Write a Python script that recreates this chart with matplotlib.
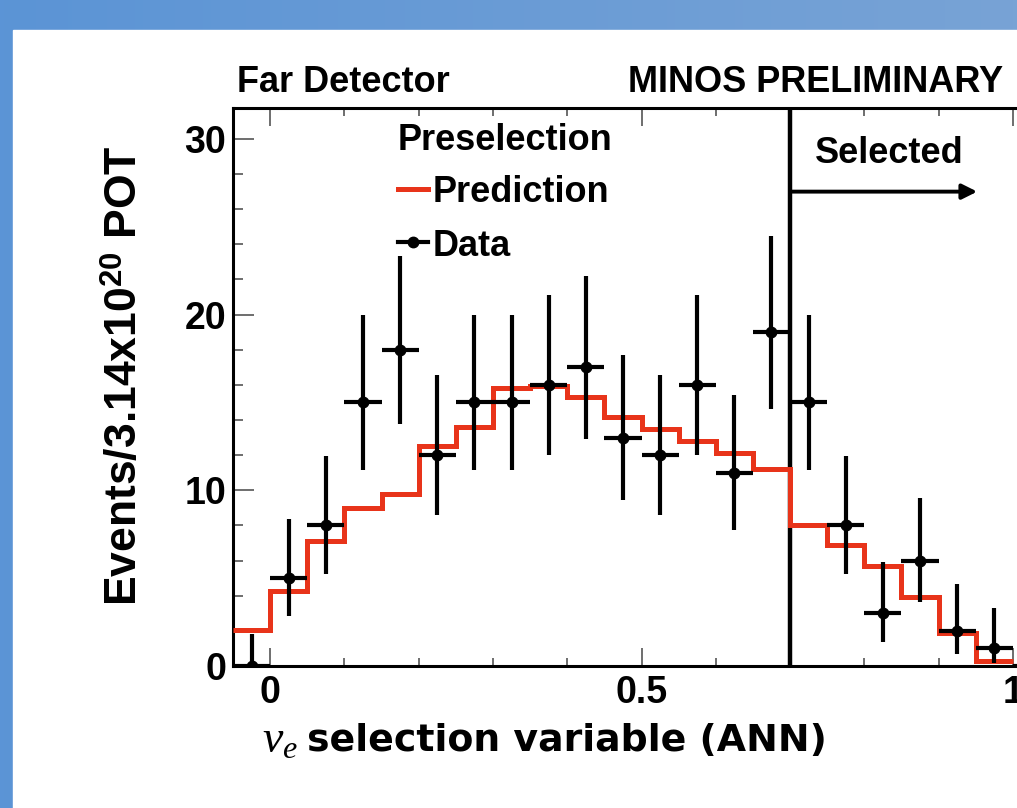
import matplotlib
matplotlib.use('Agg')
import matplotlib.pyplot as plt
import numpy as np
from matplotlib.patches import Rectangle
from matplotlib.colors import LinearSegmentedColormap
from matplotlib.ticker import MultipleLocator, FixedLocator

plt.rcParams['mathtext.fontset'] = 'custom'
plt.rcParams['mathtext.rm'] = 'Liberation Sans'
plt.rcParams['mathtext.bf'] = 'Liberation Sans:bold'
plt.rcParams['mathtext.it'] = 'Liberation Serif:italic'

# data (bin width 0.05)
bin_centers = [-0.025, 0.025, 0.075, 0.125, 0.175, 0.225, 0.275, 0.325, 0.375, 0.425, 0.475,
               0.525, 0.575, 0.625, 0.675, 0.725, 0.775, 0.825, 0.875, 0.925, 0.975, 1.025]
data_counts = [0, 5, 8, 15, 18, 12, 15, 15, 16, 17, 13, 12, 16, 11, 19, 15, 8, 3, 6, 2, 1, 0]
err_low = [0, 2.16, 2.77, 3.83, 4.22, 3.42, 3.83, 3.83, 3.97, 4.10, 3.56,
           3.42, 3.97, 3.27, 4.35, 3.83, 2.77, 1.63, 2.38, 1.29, 0.83, 0]
err_high = [1.84, 3.38, 3.95, 4.96, 5.33, 4.56, 4.96, 4.96, 5.09, 5.21, 4.70,
            4.56, 5.09, 4.42, 5.45, 4.96, 3.95, 2.92, 3.58, 2.64, 2.30, 1.84]

pred_edges = [-0.05, 0.0, 0.05, 0.1, 0.15, 0.2, 0.25, 0.3, 0.35, 0.4, 0.45, 0.5,
              0.55, 0.6, 0.65, 0.7, 0.75, 0.8, 0.85, 0.9, 0.95, 1.0]
prediction = [2.05, 4.25, 7.1, 9.0, 9.8, 12.5, 13.6, 15.85, 15.95, 15.3, 14.2,
              13.5, 12.8, 12.1, 11.2, 8.0, 6.9, 5.7, 3.9, 1.9, 0.3]

cut_value = 0.7

W, H = 1017, 808
def fx(x):
    return x / W
def fy(y):
    return 1 - y / H

fig = plt.figure(figsize=(W / 100, H / 100), dpi=100)

# slide background: blue band top and left
bg = fig.add_axes([0, 0, 1, 1])
grad = np.linspace(0, 1, 256).reshape(1, -1)
cmap = LinearSegmentedColormap.from_list('slide', ['#5b94d6', '#78a3d5'])
bg.imshow(grad, aspect='auto', cmap=cmap, extent=[0, 1, 0, 1])
bg.add_patch(Rectangle((fx(13), 0), 1, fy(30), color='white'))
bg.set_xlim(0, 1)
bg.set_ylim(0, 1)
bg.axis('off')

red = '#e8341a'

ax = fig.add_axes([fx(233), fy(666), 817 / W, (666 - 108) / H])
ax.set_xlim(-0.05, 1.05)
ax.set_ylim(0, 31.76)

ax.axvline(cut_value, color='black', lw=3.2, zorder=2)
ax.stairs(prediction, pred_edges, baseline=None, color=red, lw=3.6, zorder=3)
ax.errorbar(bin_centers, data_counts, yerr=[err_low, err_high], xerr=0.025,
            fmt='o', color='black', ms=7.5, elinewidth=3, capsize=0, zorder=4)

# "Selected" arrow
ax.annotate('', xy=(0.952, 27.0), xytext=(cut_value, 27.0),
            arrowprops=dict(arrowstyle='-|>,head_length=0.9,head_width=0.45',
                            color='black', lw=2.8, shrinkA=0, shrinkB=0))
fig.text(fx(815), fy(163), 'Selected', fontsize=26, fontweight='bold',
         family='Liberation Sans', va='baseline', ha='left')

# axes styling
for s in ax.spines.values():
    s.set_linewidth(2.2)
ax.xaxis.set_major_locator(FixedLocator([0, 0.5, 1]))
ax.xaxis.set_minor_locator(FixedLocator([0.1, 0.2, 0.3, 0.4, 0.6, 0.7, 0.8, 0.9]))
ax.yaxis.set_major_locator(MultipleLocator(10))
ax.yaxis.set_minor_locator(MultipleLocator(2))
ax.set_xticklabels(['0', '0.5', '1'])
ax.tick_params(axis='x', which='both', direction='in', top=True, bottom=True,
               color='#555555', width=1.2)
ax.tick_params(axis='x', which='major', length=12.7, pad=6.5)
ax.tick_params(axis='x', which='minor', length=5.8)
ax.tick_params(axis='y', which='both', direction='in', left=True, right=False,
               color='#555555', width=1.2)
ax.tick_params(axis='y', which='major', length=15, pad=5)
ax.tick_params(axis='y', which='minor', length=7.2)
for lab in ax.get_xticklabels() + ax.get_yticklabels():
    lab.set_fontsize(27)
    lab.set_fontweight('bold')
    lab.set_family('Liberation Sans')

# header texts
fig.text(fx(237), fy(92), 'Far Detector', fontsize=26, fontweight='bold',
         family='Liberation Sans', va='baseline', ha='left')
fig.text(fx(628), fy(92), 'MINOS PRELIMINARY', fontsize=26, fontweight='bold',
         family='Liberation Sans', va='baseline', ha='left')

# legend
fig.text(fx(398), fy(150), 'Preselection', fontsize=26, fontweight='bold',
         family='Liberation Sans', va='baseline', ha='left')
fig.text(fx(433), fy(202), 'Prediction', fontsize=26, fontweight='bold',
         family='Liberation Sans', va='baseline', ha='left')
fig.text(fx(433), fy(256), 'Data', fontsize=26, fontweight='bold',
         family='Liberation Sans', va='baseline', ha='left')
fig.add_artist(plt.Line2D([fx(398), fx(428)], [fy(189), fy(189)], color=red, lw=3.6))
fig.add_artist(plt.Line2D([fx(398), fx(428)], [fy(242), fy(242)], color='black', lw=3))
fig.add_artist(plt.Line2D([fx(413)], [fy(242)], color='black', marker='o', ms=7.5))

# axis titles
fig.text(fx(125), fy(376), r'Events/3.14x10$^{\mathbf{20}}$ POT', fontsize=32,
         fontweight='bold', family='Liberation Sans', rotation=90,
         ha='center', va='center')
fig.text(fx(262), fy(753), r'$\mathit{\nu}_{\mathit{e}}$', fontsize=33,
         va='baseline', ha='left')
fig.text(fx(307), fy(751), 'selection variable (ANN)', fontsize=27.3,
         fontweight='bold', family='DejaVu Sans', va='baseline', ha='left')

plt.savefig('out.png', dpi=100)
